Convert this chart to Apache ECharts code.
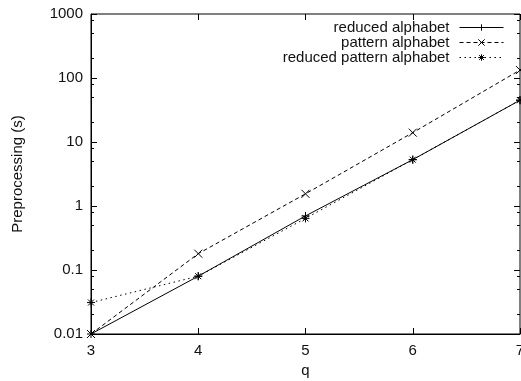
<!DOCTYPE html>
<html>
<head>
<meta charset="utf-8">
<script src="https://cdn.jsdelivr.net/npm/echarts@6/dist/echarts.min.js"></script>
<style>
  html, body { margin: 0; padding: 0; background: #fff; }
  #myChart { width: 521px; height: 381px; }
</style>
</head>
<body>
<div id="myChart"></div>
<script>
  // q values on the x axis
  var qValues = [3, 4, 5, 6, 7];
  // preprocessing times (s)
  var reducedAlphabet = [0.01, 0.08, 0.7, 5.3, 45];
  var patternAlphabet = [0.01, 0.18, 1.55, 14, 133];
  var reducedPatternAlphabet = [0.031, 0.08, 0.64, 5.3, 45];
  var seriesNames = ['reduced alphabet', 'pattern alphabet', 'reduced pattern alphabet'];
  // minor ticks on the log axis
  var minorTicks = [0.02, 0.05, 0.08, 0.2, 0.5, 0.8, 2, 5, 8, 20, 50, 80, 200, 500, 800];

  var fontFamily = '"Liberation Sans", Arial, Helvetica, sans-serif';
  var plusPath = 'path://M0,4L8,4M4,0L4,8';
  var crossPath = 'path://M0,0L8,8M8,0L0,8';
  var starPath = 'path://M0,4L8,4M4,0L4,8M1,1L7,7M7,1L1,7';

  function pairs(vals) {
    var out = [];
    for (var i = 0; i < qValues.length; i++) {
      out.push([qValues[i], vals[i]]);
    }
    return out;
  }

  function yAxisFor(position, ticks, len, showLine) {
    var ax = {
      type: 'log',
      logBase: 10,
      min: 0.01,
      max: 1000,
      position: position,
      axisLine: { show: showLine, lineStyle: { color: '#000', width: 1 } },
      axisTick: { inside: true, length: len, lineStyle: { color: '#000', width: 1 } },
      axisLabel: { show: false },
      splitLine: { show: false }
    };
    if (ticks) ax.axisTick.customValues = ticks;
    return ax;
  }

  var myChart = echarts.init(document.getElementById('myChart'));
  var yMain = yAxisFor('left', null, 6, true);
  yMain.axisLabel = {
    show: true, color: '#111', fontSize: 15, fontFamily: fontFamily, margin: 8,
    formatter: function (v) { return String(+v.toPrecision(6)); }
  };
  yMain.name = 'Preprocessing (s)';
  yMain.nameLocation = 'middle';
  yMain.nameGap = 66;
  yMain.nameTextStyle = { color: '#111', fontSize: 15, fontFamily: fontFamily };

  myChart.setOption({
    animation: false,
    backgroundColor: '#fff',
    grid: {
      left: 91, right: 1, top: 14, bottom: 47,
      outerBoundsMode: 'none',
      containLabel: false,
      show: true, borderColor: '#000', borderWidth: 1
    },
    legend: {
      data: seriesNames,
      orient: 'vertical',
      align: 'right',
      right: 17,
      top: 20,
      padding: 0,
      itemWidth: 44,
      itemHeight: 8,
      itemGap: 0,
      lineStyle: { width: 1 },
      itemStyle: { borderWidth: 1 },
      textStyle: {
        color: '#111', fontSize: 15, lineHeight: 15, fontFamily: fontFamily,
        padding: [0, 5, 0, 0]
      }
    },
    xAxis: [
      {
        type: 'value',
        min: 3,
        max: 7,
        interval: 1,
        position: 'bottom',
        name: 'q',
        nameLocation: 'middle',
        nameGap: 27,
        nameTextStyle: { color: '#111', fontSize: 15, fontFamily: fontFamily },
        axisLine: { lineStyle: { color: '#000', width: 1 } },
        axisTick: { inside: true, length: 6, lineStyle: { color: '#000' } },
        axisLabel: { color: '#111', fontSize: 15, fontFamily: fontFamily, margin: 9 },
        splitLine: { show: false }
      },
      {
        type: 'value',
        min: 3,
        max: 7,
        interval: 1,
        position: 'top',
        axisLine: { show: false },
        axisTick: { inside: true, length: 6, lineStyle: { color: '#000' } },
        axisLabel: { show: false },
        splitLine: { show: false }
      }
    ],
    yAxis: [
      yMain,
      yAxisFor('left', minorTicks, 3, false),
      yAxisFor('right', null, 6, false),
      yAxisFor('right', minorTicks, 3, false)
    ],
    series: [
      {
        name: seriesNames[0],
        type: 'line',
        data: pairs(reducedAlphabet),
        symbol: plusPath,
        symbolSize: 8,
        clip: false,
        lineStyle: { color: '#000', width: 1, type: 'solid' },
        itemStyle: { color: '#000', borderColor: '#000', borderWidth: 1 }
      },
      {
        name: seriesNames[1],
        type: 'line',
        data: pairs(patternAlphabet),
        symbol: crossPath,
        symbolSize: 8,
        clip: false,
        lineStyle: { color: '#000', width: 1, type: [4, 3] },
        itemStyle: { color: '#000', borderColor: '#000', borderWidth: 1 }
      },
      {
        name: seriesNames[2],
        type: 'line',
        data: pairs(reducedPatternAlphabet),
        symbol: starPath,
        symbolSize: 8,
        clip: false,
        lineStyle: { color: '#000', width: 1, type: [1.5, 3.5] },
        itemStyle: { color: '#000', borderColor: '#000', borderWidth: 1 }
      }
    ]
  });
</script>
</body>
</html>
